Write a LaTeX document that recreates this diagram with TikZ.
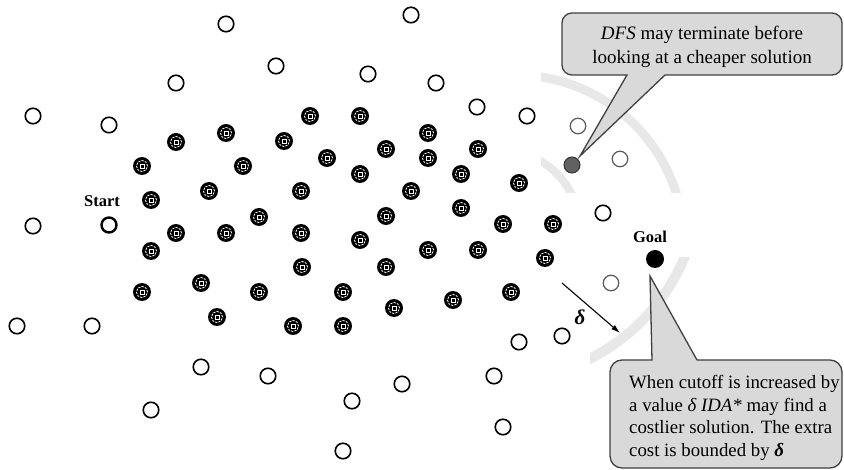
\documentclass[tikz,border=0pt]{standalone}
\usepackage{fontspec}
\setmainfont{Liberation Serif}
\usetikzlibrary{arrows.meta}
\begin{document}
\begin{tikzpicture}[x=1pt,y=-1pt,
  open/.style={circle,draw=black,line width=1.6pt,fill=white,minimum size=15.5pt,inner sep=0pt},
  grayopen/.style={circle,draw=black!65,line width=1.2pt,fill=white,minimum size=15.5pt,inner sep=0pt},
  dotnode/.style={circle,fill=black,minimum size=18pt,inner sep=0pt,
    path picture={
      \draw[white,line width=0.8pt,dash pattern=on 2.2pt off 1.2pt] (path picture bounding box.center) circle (5.6pt);
      \draw[white,line width=0.9pt] ([shift={(-2pt,-2pt)}]path picture bounding box.center) rectangle ([shift={(2pt,2pt)}]path picture bounding box.center);
    }},
  band/.style={draw=black!9,line width=9pt},
  callout/.style={fill=black!15,draw=black!75,line width=1.3pt},
  lbl/.style={font=\fontsize{16.5}{19}\selectfont\bfseries,inner sep=0pt}
]
\useasboundingbox (0,0) rectangle (844,470);
\fill[white] (0,0) rectangle (844,470);

% faint gray arcs (background of the pasted regions)
\begin{scope}
  \clip (541,70) rectangle (683,193);
  \draw[band] (515,244) circle (169pt);
  \draw[band,line width=8pt] (500,230) circle (80pt);
\end{scope}
\begin{scope}
  \clip (590,258) rectangle (690,372);
  \draw[band,line width=10pt] (500,180) circle (200pt);
\end{scope}

% callouts
\draw[callout] (562,40) [rounded corners=10pt] -- (562,13) -- (842,13) -- (842,75)
  [sharp corners] -- (665,75) -- (580,156) -- (627,75)
  [rounded corners=10pt] -- (562,75) -- cycle;
\node[font=\fontsize{19}{24.5}\selectfont,align=center,inner sep=0pt] (t1) at (702,47)
  {\textit{DFS} may terminate before\\looking at a cheaper solution};

\draw[callout] (610,410) [rounded corners=12pt] -- (610,360)
  [sharp corners] -- (652,360) -- (650,276) -- (697,360)
  [rounded corners=12pt] -- (842,360) -- (842,468) -- (610,468) -- cycle;
\node[font=\fontsize{18.8}{22.8}\selectfont,align=left,anchor=west,inner sep=0pt] (t2) at (629,418)
  {When cutoff is increased by\\a value \textit{δ IDA*} may find a\\costlier solution. The extra\\cost is bounded by \textit{\textbf{δ}}};

% open (unvisited) nodes
\foreach \x/\y [count=\i] in {226/24,276/66,176/83,411/15,368/74,436/83,477/107,527/116,
  33/116,109/125,33/226,603/213,17/326,92/326,201/367,268/376,151/410,519/342,562/336,
  494/376,402/384,352/401,503/427,343/451}
  \node[open] (o\i) at (\x,\y) {};
\foreach \x/\y [count=\i] in {578/126,620/159,611/283}
  \node[grayopen] (q\i) at (\x,\y) {};

% expanded nodes
\foreach \x/\y [count=\i] in {176/142,226/133,284/141,142/166,243/166,151/200,209/191,301/191,
  259/217,176/233,226/233,301/233,310/116,360/116,428/133,327/158,386/149,428/158,478/149,
  360/174,461/174,519/183,411/191,461/208,386/216,503/224,553/224,360/240,151/251,201/283,
  142/292,259/292,217/317,293/326,428/250,478/250,545/258,302/267,386/267,343/292,453/300,
  511/292,394/308,343/326}
  \node[dotnode] (d\i) at (\x,\y) {};

% start, goal, DFS solution
\node[circle,draw=black,line width=2.4pt,fill=white,minimum size=15pt,inner sep=0pt] (start) at (109,225) {};
\node[lbl] (startlbl) at (102,201) {Start};
\node[circle,fill=black,minimum size=18pt,inner sep=0pt] (goal) at (655,259) {};
\node[lbl] (goallbl) at (650,237) {Goal};
\node[circle,fill=black!62,draw=black!80,line width=1pt,minimum size=16pt,inner sep=0pt] (dfs) at (572,165) {};

% delta arrow
\coordinate (da) at (562,283);
\coordinate (db) at (620,333);
\draw[line width=1.1pt,-{Latex[length=9pt,width=5.5pt]}] (da) -- (db);
\node[font=\fontsize{21}{22}\selectfont\bfseries\itshape,inner sep=0pt] (dl) at (580,317) {δ};
\end{tikzpicture}
\end{document}
